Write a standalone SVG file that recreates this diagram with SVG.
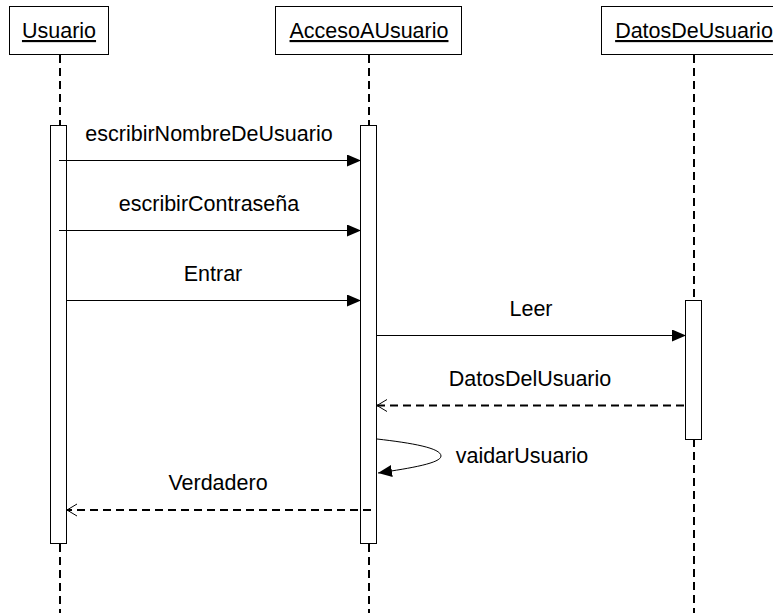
<svg xmlns="http://www.w3.org/2000/svg" width="773" height="613" viewBox="0 0 773 613">
  <style>
    .head { fill: #ffffff; stroke: #000000; stroke-width: 1; }
    .act { fill: #ffffff; stroke: #000000; stroke-width: 1; }
    .life { stroke: #000000; stroke-width: 2; stroke-dasharray: 8 5; fill: none; }
    .msg { stroke: #000000; stroke-width: 1; fill: none; }
    .ret { stroke: #000000; stroke-width: 2; stroke-dasharray: 8 5; fill: none; }
    .name { font-family: "Liberation Sans", Arial, sans-serif; font-size: 21.5px; fill: #000000; text-anchor: middle; text-decoration: underline; }
    .lbl { font-family: "Liberation Sans", Arial, sans-serif; font-size: 21.5px; fill: #000000; text-anchor: middle; }
  </style>
  <defs>
    <marker id="filled" markerWidth="16" markerHeight="14" refX="14" refY="6" orient="auto" markerUnits="userSpaceOnUse">
      <path d="M0,0 L14,6 L0,12 Z" fill="#000000"/>
    </marker>
    <marker id="open" markerWidth="14" markerHeight="16" refX="11" refY="7" orient="auto" markerUnits="userSpaceOnUse">
      <path d="M1,1 L11,7 L1,13" fill="none" stroke="#000000" stroke-width="1"/>
    </marker>
  </defs>
  <rect width="773" height="613" fill="#ffffff"/>

  <!-- Usuario -->
  <g id="usuario">
    <line class="life" x1="60" y1="55" x2="60" y2="125"/>
    <line class="life" x1="60" y1="544" x2="60" y2="613"/>
    <rect class="head" x="9.5" y="6.5" width="99" height="48"/>
    <text class="name" x="59" y="38">Usuario</text>
    <rect class="act" x="50.5" y="125.5" width="16" height="418"/>
  </g>

  <!-- AccesoAUsuario -->
  <g id="accesoAUsuario">
    <line class="life" x1="369" y1="55" x2="369" y2="125"/>
    <line class="life" x1="369" y1="544" x2="369" y2="613"/>
    <rect class="head" x="275.5" y="6.5" width="186" height="48"/>
    <text class="name" x="369" y="38">AccesoAUsuario</text>
    <rect class="act" x="360.5" y="125.5" width="16" height="418"/>
  </g>

  <!-- DatosDeUsuario -->
  <g id="datosDeUsuario">
    <line class="life" x1="694" y1="55" x2="694" y2="300"/>
    <line class="life" x1="694" y1="439" x2="694" y2="613"/>
    <rect class="head" x="601.5" y="6.5" width="190" height="48"/>
    <text class="name" x="694" y="38">DatosDeUsuario</text>
    <rect class="act" x="685.5" y="300.5" width="16" height="139"/>
  </g>

  <!-- Messages -->
  <g id="connectors">
    <line class="msg" x1="59" y1="160.5" x2="361" y2="160.5" marker-end="url(#filled)"/>
    <text class="lbl" x="209" y="141">escribirNombreDeUsuario</text>

    <line class="msg" x1="59" y1="230.5" x2="361" y2="230.5" marker-end="url(#filled)"/>
    <text class="lbl" x="209" y="211">escribirContraseña</text>

    <line class="msg" x1="67" y1="300.5" x2="361" y2="300.5" marker-end="url(#filled)"/>
    <text class="lbl" x="213" y="281">Entrar</text>

    <line class="msg" x1="377" y1="335.5" x2="686" y2="335.5" marker-end="url(#filled)"/>
    <text class="lbl" x="531" y="316">Leer</text>

    <line class="ret" x1="684" y1="405.5" x2="377" y2="405.5" marker-end="url(#open)"/>
    <text class="lbl" x="530" y="386">DatosDelUsuario</text>

    <path class="msg" d="M377,439 C412,443 441,448 441,456 C441,463 412,468 378,473" marker-end="url(#filled)"/>
    <text class="lbl" x="522" y="463">vaidarUsuario</text>

    <line class="ret" x1="371" y1="510" x2="67" y2="510" marker-end="url(#open)"/>
    <text class="lbl" x="218" y="490">Verdadero</text>
  </g>
</svg>
